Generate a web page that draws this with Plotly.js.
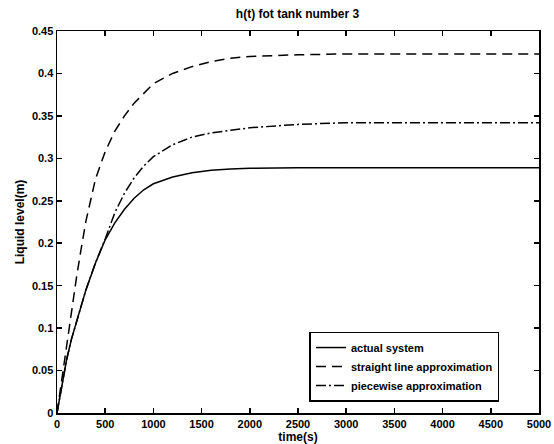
<!DOCTYPE html>
<html>
<head>
<meta charset="utf-8">
<script src="https://cdn.plot.ly/plotly-3.0.1.min.js"></script>
<style>html,body{margin:0;padding:0;background:#fff;}#chart{width:554px;height:444px;}</style>
</head>
<body>
<div id="chart"></div>
<script>
var time = [0, 50, 100, 150, 200, 250, 300, 400, 500, 600, 700, 800, 900, 1000, 1200, 1400, 1600, 1800, 2000, 2500, 3000, 3500, 4000, 4500, 5000];
var actualSystem = [0, 0.033, 0.063, 0.087, 0.107, 0.127, 0.145, 0.177, 0.204, 0.224, 0.240, 0.253, 0.263, 0.270, 0.278, 0.283, 0.286, 0.2875, 0.2882, 0.289, 0.289, 0.289, 0.289, 0.289, 0.289];
var straightLine = [0, 0.040, 0.082, 0.120, 0.158, 0.193, 0.226, 0.276, 0.308, 0.332, 0.350, 0.365, 0.377, 0.388, 0.400, 0.408, 0.414, 0.418, 0.420, 0.422, 0.423, 0.423, 0.423, 0.423, 0.423];
var piecewise = [0, 0.033, 0.063, 0.087, 0.107, 0.127, 0.145, 0.177, 0.205, 0.236, 0.259, 0.277, 0.291, 0.302, 0.316, 0.325, 0.330, 0.333, 0.336, 0.340, 0.342, 0.342, 0.342, 0.342, 0.342];
var names = ['actual system', 'straight line approximation', 'piecewise approximation'];
var xTicks = [0, 500, 1000, 1500, 2000, 2500, 3000, 3500, 4000, 4500, 5000];
var yTicks = [0, 0.05, 0.1, 0.15, 0.2, 0.25, 0.3, 0.35, 0.4, 0.45];

var fam = 'Liberation Sans, Arial, sans-serif';
var font = {family: fam, size: 11, color: '#000', weight: 'bold'};
var traces = [
  {x: time, y: actualSystem, name: names[0], mode: 'lines', line: {color: '#000', width: 1.5, dash: 'solid'}},
  {x: time, y: straightLine, name: names[1], mode: 'lines', line: {color: '#000', width: 1.5, dash: '10px,6px'}},
  {x: time, y: piecewise, name: names[2], mode: 'lines', line: {color: '#000', width: 1.5, dash: '10px,3px,2px,3px'}}
];
var axisCommon = {
  showgrid: false, zeroline: false, showline: true, linecolor: '#000', linewidth: 1.5,
  mirror: 'ticks', ticks: 'inside', ticklen: 5, tickwidth: 1.5, tickcolor: '#000',
  tickfont: font, automargin: false
};
var layout = {
  width: 554, height: 444,
  margin: {l: 57, r: 15, t: 31, b: 31},
  paper_bgcolor: '#fff', plot_bgcolor: '#fff',
  font: font,
  title: {text: 'h(t) fot tank number 3', font: {family: fam, size: 12, color: '#000', weight: 'bold'}, x: 0.537, xanchor: 'center', y: 0.968, yanchor: 'middle', xref: 'container'},
  xaxis: Object.assign({}, axisCommon, {range: [0, 5000], tickvals: xTicks, ticktext: xTicks.map(String),
    title: {text: 'time(s)', font: {family: fam, size: 12, color: '#000', weight: 'bold'}, standoff: 1}}),
  yaxis: Object.assign({}, axisCommon, {range: [0, 0.45], tickvals: yTicks, ticktext: yTicks.map(String),
    title: {text: 'Liquid level(m)', font: {family: fam, size: 12, color: '#000', weight: 'bold'}, standoff: 4}}),
  showlegend: true,
  legend: {x: 0.918, xanchor: 'right', y: 0.03, yanchor: 'bottom', bgcolor: '#fff', bordercolor: '#000', borderwidth: 1.5,
    font: font, tracegroupgap: 0, itemwidth: 30}
};
Plotly.newPlot('chart', traces, layout, {displayModeBar: false, staticPlot: true});
</script>
</body>
</html>
